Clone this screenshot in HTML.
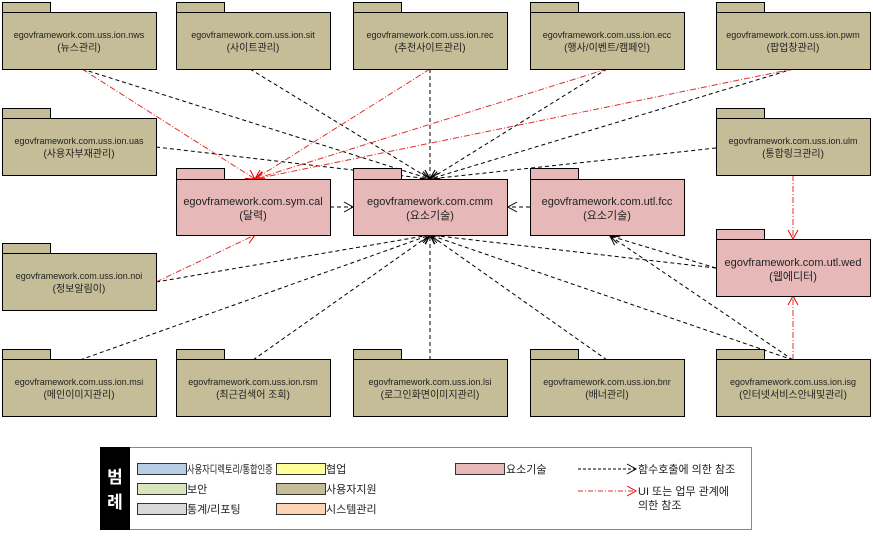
<!DOCTYPE html>
<html><head><meta charset="utf-8"><style>
body{margin:0;background:#fff}
svg text{font-family:"Liberation Sans","Noto Sans CJK KR",sans-serif;fill:#222}
</style></head><body>
<svg width="873" height="536" xmlns="http://www.w3.org/2000/svg">
<defs>
<marker id="ab" markerWidth="12" markerHeight="12" refX="10" refY="6" orient="auto" markerUnits="userSpaceOnUse"><path d="M1,1 L10,6 L1,11" fill="none" stroke="#000" stroke-width="1"/></marker>
<marker id="ar" markerWidth="12" markerHeight="12" refX="10" refY="6" orient="auto" markerUnits="userSpaceOnUse"><path d="M1,1 L10,6 L1,11" fill="none" stroke="#e00" stroke-width="1"/></marker>
</defs>
<g id="lines" fill="none">
<g stroke="#000" stroke-dasharray="4,3" marker-end="url(#ab)">
<line x1="82" y1="69" x2="430" y2="179"/>
<line x1="250" y1="69" x2="430" y2="179"/>
<line x1="430" y1="69" x2="430" y2="179"/>
<line x1="607" y1="69" x2="430" y2="179"/>
<line x1="793" y1="69" x2="430" y2="179"/>
<line x1="156" y1="147" x2="430" y2="179"/>
<line x1="716" y1="148" x2="430" y2="179"/>
<line x1="330" y1="207" x2="353" y2="207"/>
<line x1="530" y1="207" x2="508" y2="207"/>
<line x1="156" y1="282" x2="430" y2="235"/>
<line x1="80" y1="360" x2="430" y2="235"/>
<line x1="253" y1="360" x2="430" y2="235"/>
<line x1="430" y1="360" x2="430" y2="235"/>
<line x1="607" y1="360" x2="430" y2="235"/>
<line x1="793" y1="360" x2="430" y2="235"/>
<line x1="716" y1="268" x2="430" y2="235"/>
<line x1="716" y1="268" x2="610" y2="236"/>
<line x1="793" y1="360" x2="610" y2="236"/>
</g>
<g stroke="#e03030" stroke-dasharray="6,2,1,2" marker-end="url(#ar)">
<line x1="82" y1="69" x2="255" y2="179"/>
<line x1="430" y1="69" x2="255" y2="179"/>
<line x1="607" y1="69" x2="255" y2="179"/>
<line x1="793" y1="69" x2="255" y2="179"/>
<line x1="156" y1="282" x2="255" y2="235"/>
<line x1="793" y1="175" x2="793" y2="239"/>
<line x1="793" y1="360" x2="793" y2="296"/>
</g>
</g>
<g stroke="#000" stroke-width="1">
<g fill="#c4bd97">
<rect x="2.5" y="2.5" width="48" height="10"/><rect x="2.5" y="12.5" width="154" height="57"/>
<rect x="176.5" y="2.5" width="48" height="10"/><rect x="176.5" y="12.5" width="154" height="57"/>
<rect x="353.5" y="2.5" width="48" height="10"/><rect x="353.5" y="12.5" width="154" height="57"/>
<rect x="530.5" y="2.5" width="48" height="10"/><rect x="530.5" y="12.5" width="154" height="57"/>
<rect x="716.5" y="2.5" width="48" height="10"/><rect x="716.5" y="12.5" width="154" height="57"/>
<rect x="2.5" y="108.5" width="48" height="10"/><rect x="2.5" y="118.5" width="154" height="57"/>
<rect x="716.5" y="108.5" width="48" height="10"/><rect x="716.5" y="118.5" width="154" height="57"/>
<rect x="2.5" y="243.5" width="48" height="10"/><rect x="2.5" y="253.5" width="154" height="57"/>
<rect x="2.5" y="349.5" width="48" height="10"/><rect x="2.5" y="359.5" width="154" height="57"/>
<rect x="176.5" y="349.5" width="48" height="10"/><rect x="176.5" y="359.5" width="154" height="57"/>
<rect x="353.5" y="349.5" width="48" height="10"/><rect x="353.5" y="359.5" width="154" height="57"/>
<rect x="530.5" y="349.5" width="48" height="10"/><rect x="530.5" y="359.5" width="154" height="57"/>
<rect x="716.5" y="349.5" width="48" height="10"/><rect x="716.5" y="359.5" width="154" height="57"/>
</g>
<g fill="#e6b9b8">
<rect x="176.5" y="168.5" width="48" height="11"/><rect x="176.5" y="179.5" width="154" height="56"/>
<rect x="353.5" y="168.5" width="48" height="11"/><rect x="353.5" y="179.5" width="154" height="56"/>
<rect x="530.5" y="168.5" width="48" height="11"/><rect x="530.5" y="179.5" width="154" height="56"/>
<rect x="716.5" y="229.5" width="48" height="10"/><rect x="716.5" y="239.5" width="154" height="57"/>
</g>
</g>
<g text-anchor="middle" font-size="9">
<text x="79" y="38">egovframework.com.uss.ion.nws</text><text x="79" y="51" font-size="10">(뉴스관리)</text>
<text x="253" y="38">egovframework.com.uss.ion.sit</text><text x="253" y="51" font-size="10">(사이트관리)</text>
<text x="430" y="38">egovframework.com.uss.ion.rec</text><text x="430" y="51" font-size="10">(추천사이트관리)</text>
<text x="607" y="38">egovframework.com.uss.ion.ecc</text><text x="607" y="51" font-size="10">(행사/이벤트/캠페인)</text>
<text x="793" y="38">egovframework.com.uss.ion.pwm</text><text x="793" y="51" font-size="10">(팝업창관리)</text>
<text x="79" y="144">egovframework.com.uss.ion.uas</text><text x="79" y="157" font-size="10">(사용자부재관리)</text>
<text x="793" y="144">egovframework.com.uss.ion.ulm</text><text x="793" y="157" font-size="10">(통합링크관리)</text>
<text x="79" y="279">egovframework.com.uss.ion.noi</text><text x="79" y="292" font-size="10">(정보알림이)</text>
<text x="79" y="385">egovframework.com.uss.ion.msi</text><text x="79" y="398" font-size="10">(메인이미지관리)</text>
<text x="253" y="385">egovframework.com.uss.ion.rsm</text><text x="253" y="398" font-size="10">(최근검색어 조회)</text>
<text x="430" y="385">egovframework.com.uss.ion.lsi</text><text x="430" y="398" font-size="10">(로그인화면이미지관리)</text>
<text x="607" y="385">egovframework.com.uss.ion.bnr</text><text x="607" y="398" font-size="10">(배너관리)</text>
<text x="793" y="385">egovframework.com.uss.ion.isg</text><text x="793" y="398" font-size="10">(인터넷서비스안내및관리)</text>
<g font-size="11">
<text x="253" y="205">egovframework.com.sym.cal</text><text x="253" y="219">(달력)</text>
<text x="430" y="205">egovframework.com.cmm</text><text x="430" y="219">(요소기술)</text>
<text x="607" y="205">egovframework.com.utl.fcc</text><text x="607" y="219">(요소기술)</text>
<text x="793" y="266">egovframework.com.utl.wed</text><text x="793" y="280">(웹에디터)</text>
</g>
</g>
<rect x="100.5" y="447.5" width="651" height="82" fill="#fff" stroke="#888"/>
<rect x="100" y="447" width="30" height="83" fill="#000"/>
<text x="115" y="483" style="fill:#fff" font-size="17" font-weight="bold" text-anchor="middle">범</text>
<text x="115" y="508" style="fill:#fff" font-size="17" font-weight="bold" text-anchor="middle">례</text>
<g stroke="#333">
<rect x="137.5" y="463.5" width="49" height="11" fill="#b8cce4"/>
<rect x="137.5" y="483.5" width="49" height="11" fill="#d7e4bc"/>
<rect x="137.5" y="503.5" width="49" height="11" fill="#d8d8d8"/>
<rect x="276.5" y="463.5" width="49" height="11" fill="#ffff99"/>
<rect x="276.5" y="483.5" width="49" height="11" fill="#c4bd97"/>
<rect x="276.5" y="503.5" width="49" height="11" fill="#fcd5b4"/>
<rect x="455.5" y="463.5" width="49" height="11" fill="#e6b9b8"/>
</g>
<g font-size="11">
<text transform="translate(187,473) scale(0.75,1)">사용자디렉토리/통합인증</text>
<text x="187" y="493">보안</text>
<text x="187" y="513">통계/리포팅</text>
<text x="326" y="473">협업</text>
<text x="326" y="493">사용자지원</text>
<text x="326" y="513">시스템관리</text>
<text x="506" y="473">요소기술</text>
<text x="638" y="473">함수호출에 의한 참조</text>
<text x="638" y="495">UI 또는 업무 관계에</text>
<text x="638" y="509">의한 참조</text>
</g>
<line x1="578" y1="469" x2="636" y2="469" stroke="#000" stroke-dasharray="3,2" marker-end="url(#ab)"/>
<line x1="578" y1="491" x2="636" y2="491" stroke="#e03030" stroke-dasharray="5,2,1,2" marker-end="url(#ar)"/>
</svg>
</body></html>
